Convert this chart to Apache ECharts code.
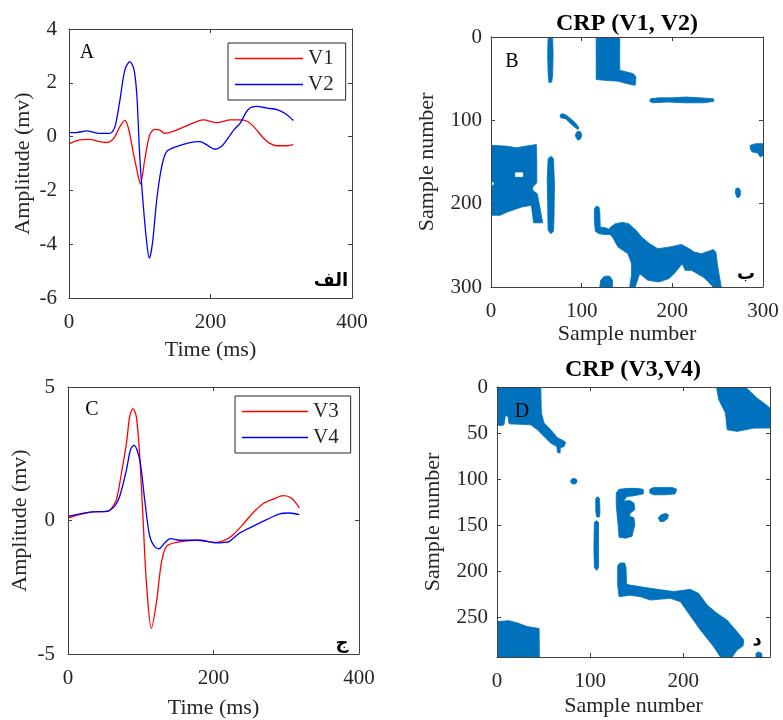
<!DOCTYPE html>
<html>
<head>
<meta charset="utf-8">
<script src="https://cdn.jsdelivr.net/npm/echarts@6/dist/echarts.min.js"></script>
<style>html,body{margin:0;padding:0;background:#fff}#c{width:783px;height:720px}</style>
</head>
<body>
<div id="c"></div>
<script>
// ---------- Panel A : V1, V2 (time ms, amplitude mV) ----------
const v1 = [[0,-0.27],[15,-0.12],[29,-0.1],[43,-0.19],[52,-0.22],[58,-0.19],[65,0],[72,0.37],[79,0.6],[84,0.31],[91,-0.62],[98,-1.49],[101,-1.76],[107,-0.87],[114,0.06],[121,0.27],[128,0.25],[135,0.12],[147,0.19],[166,0.4],[190,0.62],[209,0.52],[228,0.62],[240,0.62],[251,0.58],[261,0.37],[275,-0.06],[284,-0.25],[294,-0.34],[308,-0.34],[317,-0.3]];
const v2 = [[0,0.15],[10,0.15],[25,0.21],[43,0.12],[58,0.12],[65,0.37],[72,1.36],[79,2.48],[86,2.79],[92,2.48],[96,1.49],[100,-0.74],[104,-2.23],[109,-3.72],[113.5,-4.52],[118,-3.96],[124,-2.35],[131,-1.12],[138,-0.56],[152,-0.37],[171,-0.22],[185,-0.19],[195,-0.31],[206,-0.47],[216,-0.35],[228,0.06],[233,0.25],[242,0.5],[253,1.0],[265,1.12],[280,1.06],[294,1.0],[306,0.85],[317,0.6]];
// ---------- Panel C : V3, V4 ----------
const v3 = [[0,0.09],[16,0.22],[34,0.32],[53,0.34],[58,0.4],[66.5,0.78],[73.4,1.77],[80.3,2.89],[84.8,3.88],[89.3,4.19],[94,3.88],[98.6,2.39],[103,0.15],[107.8,-2.33],[114.6,-4.04],[121.5,-3.08],[128.4,-1.58],[135.3,-0.97],[149,-0.82],[176.5,-0.74],[204,-0.82],[218,-0.71],[227,-0.53],[240,-0.16],[254,0.28],[268,0.63],[282,0.8],[296,0.93],[307,0.84],[318,0.47]];
const v4 = [[0,0.15],[16,0.25],[34,0.32],[53,0.34],[57,0.38],[64,0.53],[71,0.9],[80.3,1.89],[85.8,2.64],[90.7,2.82],[98.6,2.27],[105.4,0.78],[112.3,-0.59],[119.2,-0.99],[125.1,-1.06],[132.9,-0.84],[140.8,-0.68],[153.5,-0.74],[181,-0.74],[204,-0.84],[215,-0.82],[222,-0.78],[236,-0.47],[254,-0.22],[273,0.03],[291,0.25],[305,0.28],[318,0.22]];

// ---------- Panel B : CRP (V1,V2) recurrence regions [sampleX, sampleY] ----------
const bVLine1 = [[63,1],[65,0],[68,1],[68.5,20],[68,45],[67,54],[64,55],[63,45],[62.5,20]];
const bTopBlock = [[116,0],[142,0],[142,40],[150,42],[157,44],[160,48],[159,58],[150,56],[140,53],[125,52],[116,51]];
const bHLine = [[176,74],[185,73],[200,73],[215,72],[230,73],[245,74],[246,77],[235,79],[215,79],[195,78],[178,79],[175,77]];
const bArc = [[76,94],[78,92],[82,93],[88,98],[93,103],[97,109],[96,111],[92,108],[87,103],[82,98],[77,97]];
const bDot1 = [[94,115],[96,113],[99,114],[100,118],[99,122],[96,124],[94,121],[93,118]];
const bLeftBlock = [[0,130],[18,131],[28,133],[38,131],[50,129],[50.5,150],[50.5,175],[46,180],[46,184],[51,188],[54,205],[57,223],[47,223],[44.5,202],[34,204],[26,207],[18,210],[10,214],[0,214],[0,180],[4,176],[0,172]];
const bHole = [[27,163],[35,163],[35,167.5],[27,167.5]];
const bVLine2 = [[63,146],[66,143],[69,146],[70,180],[69.5,215],[69,233],[66,236],[63,232],[62.5,200],[62,170]];
const bRightBlob = [[286,130],[292,128],[300,128],[300,142],[297,144],[294,139],[288,138],[286,134]];
const bDot2 = [[270,182],[273,181],[275,184],[275,190],[273,193],[271,192],[269.5,187]];
const bVPiece = [[114,206],[116,203],[119,204],[120,210],[120.5,228],[126,229],[131,231],[132,237],[125,237],[119,236],[115,233],[114,220]];
const bMainBlob = [[131,229],[137,224],[145,222.5],[152,224],[160,232],[166,240],[175,248],[184,254],[197,252],[210,249],[217,253],[224,258],[232,260],[240,257],[245,255],[248,258],[250,275],[254,300],[245,300],[238,292],[234,288],[221,280],[214,280],[211,272],[208,276],[202,284],[196,290],[185,294],[173,292],[164,284],[159,300],[153,300],[155,285],[155,272],[151,260],[140,252],[135,242],[131,236]];
const bBottomLump = [[120,300],[121,292],[125,287],[131,287],[134,292],[134,300]];

// ---------- Panel D : CRP (V3,V4) recurrence regions ----------
const dTopLeft = [[0,0],[47,0],[47.6,28],[50.5,39],[57.7,46.4],[64.9,55],[70,57.6],[73.8,60],[72,64.5],[68,66],[67.7,71.7],[64.9,71],[64.2,64.5],[57.7,61],[50.5,53.6],[43.3,46.4],[36.2,41],[12.9,40],[11.8,32],[9,31],[7.5,41],[4,42],[0,41]];
const dTopRight = [[235.5,0],[266.7,0],[279,12],[286.4,17.4],[293,22.8],[293,44.6],[275.6,44.6],[257.7,48.2],[247,46.4],[245.2,28.3],[238,13.8]];
const dDot1 = [[80,100],[82.5,99],[85,100],[86,102],[85,104.5],[82.5,105.5],[80,104.5],[79,102]];
const dVLineUp = [[106,121],[108,119],[110,121],[110.5,135],[110,141],[107,141],[106,135]];
const dVLineLow = [[104.5,147],[106.5,145],[109,147],[109,175],[109,196],[107,199],[104.5,196],[104,175]];
const dCShape = [[128,115],[131,111],[140,110],[150,110],[157,111],[157,116],[147,118],[139,119],[136,124],[142,123],[147,126],[148,133],[143,137],[142,140],[147,142],[148,150],[146,157],[145,162],[138,164],[131,163],[130,150],[129,140],[128,128]];
const dBar2 = [[164,111],[168,109],[178,109],[188,109],[193,111],[191,116],[180,117],[168,117],[164,115]];
const dSmallBlob = [[173,142],[176,139],[181,137],[184,139],[183,143],[179,146],[175,146]];
const dBand = [[129.5,194],[132,191],[137,191],[138.5,196],[139,214],[143,215],[164.5,218.5],[189.6,222],[207.5,219.6],[216.5,224],[225.5,236.6],[236.2,245.6],[247,253],[257.7,265.6],[264.9,274.6],[264,281],[257.7,285.5],[252.3,293],[239.8,293],[232.6,281.9],[218.3,263.8],[205.7,245.7],[196.8,233],[186,229.3],[164.5,231.2],[153.8,227.5],[143,226],[131,227.5],[129.5,215]];
const dBottomLeft = [[0,254.6],[12.9,253.6],[22,256],[32.6,260],[45.2,262],[45.5,293],[0,293]];
const dDot2 = [[278,293],[278,289],[281,287.5],[284,289],[284.5,293]];

// ---------- tick settings ----------
const aXTicks = {min:0,max:400,interval:200};
const aYTicks = {min:-6,max:4,interval:2};
const bTicks = {min:0,max:300,interval:100};
const cXTicks = {min:0,max:400,interval:200};
const cYTicks = {min:-5,max:5,interval:5};
const dXTicks = {min:0,max:293,interval:100};
const dYTicks = {min:0,max:293,interval:50};

const BLUE_FILL = '#0072BD';
const bPolys = [bVLine1,bTopBlock,bHLine,bArc,bDot1,bLeftBlock,bVLine2,bRightBlob,bDot2,bVPiece,bMainBlob,bBottomLump];
const bHoles = [bHole];
const dPolys = [dTopLeft,dTopRight,dDot1,dVLineUp,dVLineLow,dCShape,dBar2,dSmallBlob,dBand,dBottomLeft,dDot2];

const FONT = 'Liberation Serif';
const TXT = '#262626';
const AX = '#404040';

const grids = [
  {left:69,top:29,width:283,height:269},
  {left:491,top:37,width:272,height:250},
  {left:68,top:387,width:291,height:268},
  {left:497,top:387,width:273,height:270}
];

function xAxes(gi, ticks, name, nameGap, inverse, hideMax){
  const base = {gridIndex:gi, type:'value', min:ticks.min, max:ticks.max, interval:ticks.interval, z:10,
    splitLine:{show:false}, axisLine:{show:true,onZero:false,lineStyle:{color:AX,width:1}},
    axisTick:{show:true,inside:true,length:4,lineStyle:{color:AX}}};
  return [
    Object.assign({}, base, {position:'bottom', name:name, nameLocation:'middle', nameGap:nameGap,
      nameTextStyle:{fontFamily:FONT,fontSize:22,color:TXT},
      axisLabel:{fontFamily:FONT,fontSize:21,color:TXT,margin:14,showMaxLabel:!hideMax}}),
    Object.assign({}, base, {position:'top', axisLabel:{show:false}})
  ];
}
function yAxes(gi, ticks, name, nameGap, inverse, hideMax, margin){
  const base = {gridIndex:gi, type:'value', min:ticks.min, max:ticks.max, interval:ticks.interval, inverse:inverse, z:10,
    splitLine:{show:false}, axisLine:{show:true,onZero:false,lineStyle:{color:AX,width:1}},
    axisTick:{show:true,inside:true,length:4,lineStyle:{color:AX}}};
  return [
    Object.assign({}, base, {position:'left', name:name, nameLocation:'middle', nameGap:nameGap,
      nameTextStyle:{fontFamily:FONT,fontSize:22,color:TXT},
      axisLabel:{fontFamily:FONT,fontSize:21,color:TXT,margin:margin,showMaxLabel:!hideMax}}),
    Object.assign({}, base, {position:'right', axisLabel:{show:false}})
  ];
}

function polySeries(polys, fill, xi, yi){
  return {
    type:'custom', xAxisIndex:xi, yAxisIndex:yi, clip:true, silent:true,
    data: polys.map((p,i)=>[p[0][0], p[0][1], i]),
    renderItem: function(params, api){
      const poly = polys[api.value(2)];
      return {type:'polygon', shape:{points: poly.map(pt=>api.coord(pt))}, style:{fill:fill, stroke:fill, lineWidth:0.8}};
    }
  };
}

const lineBase = {type:'line', showSymbol:false, symbol:'none', smooth:0.3, z:5};

function label(text, x, y, font){
  return {type:'text', x:x, y:y, z:20, style:{text:text, font:font, fill:'#000', textAlign:'center', textVerticalAlign:'middle'}};
}

const option = {
  backgroundColor:'#fff',
  animation:false,
  grid: grids.map(g=>Object.assign({show:false, containLabel:false}, g)),
  xAxis: [].concat(
    xAxes(0, aXTicks, 'Time (ms)', 41),
    xAxes(1, bTicks, 'Sample number', 32),
    xAxes(2, cXTicks, 'Time (ms)', 43),
    xAxes(3, dXTicks, 'Sample number', 38, false, true)
  ),
  yAxis: [].concat(
    yAxes(0, aYTicks, 'Amplitude (mv)', 35, false, false, 12),
    yAxes(1, bTicks, 'Sample number', 53, true, false, 9),
    yAxes(2, cYTicks, 'Amplitude (mv)', 37, false, false, 13),
    yAxes(3, dYTicks, 'Sample number', 53, true, true, 9)
  ),
  legend: [
    {data:['V1','V2'], orient:'vertical', left:228, top:43, icon:'rect', itemWidth:68, itemHeight:1.5, itemGap:5,
     padding:[5,12,5,7], borderColor:'#262626', borderWidth:1, backgroundColor:'#fff',
     textStyle:{fontFamily:FONT,fontSize:21,color:TXT}},
    {data:['V3','V4'], orient:'vertical', left:235, top:396, icon:'rect', itemWidth:66, itemHeight:1.5, itemGap:5,
     padding:[5,12,5,7], borderColor:'#262626', borderWidth:1, backgroundColor:'#fff',
     textStyle:{fontFamily:FONT,fontSize:21,color:TXT}}
  ],
  series: [
    Object.assign({}, lineBase, {name:'V1', xAxisIndex:0, yAxisIndex:0, data:v1, color:'#FF0000', lineStyle:{width:1.3,color:'#FF0000'}}),
    Object.assign({}, lineBase, {name:'V2', xAxisIndex:0, yAxisIndex:0, data:v2, color:'#0000FF', lineStyle:{width:1.3,color:'#0000FF'}}),
    polySeries(bPolys, BLUE_FILL, 2, 2),
    polySeries(bHoles, '#ffffff', 2, 2),
    Object.assign({}, lineBase, {name:'V3', xAxisIndex:4, yAxisIndex:4, data:v3, color:'#FF0000', lineStyle:{width:1.3,color:'#FF0000'}}),
    Object.assign({}, lineBase, {name:'V4', xAxisIndex:4, yAxisIndex:4, data:v4, color:'#0000FF', lineStyle:{width:1.3,color:'#0000FF'}}),
    polySeries(dPolys, BLUE_FILL, 6, 6)
  ],
  graphic: [
    label('CRP (V1, V2)', 627, 24, 'bold 24px "Liberation Serif"'),
    label('CRP (V3,V4)', 633, 370, 'bold 24px "Liberation Serif"'),
    label('A', 87, 53, '20px "Liberation Serif"'),
    label('B', 512, 62, '20px "Liberation Serif"'),
    label('C', 92, 410, '20px "Liberation Serif"'),
    label('D', 522, 412, '20px "Liberation Serif"'),
    label('الف', 331, 281, 'bold 18px "DejaVu Sans"'),
    label('ب', 746, 274, 'bold 18px "DejaVu Sans"'),
    label('ج', 342, 643, 'bold 18px "DejaVu Sans"'),
    label('د', 757, 640, 'bold 18px "DejaVu Sans"')
  ]
};
const chart = echarts.init(document.getElementById('c'), null, {renderer:'canvas'});
chart.setOption(option);
</script>
</body>
</html>
